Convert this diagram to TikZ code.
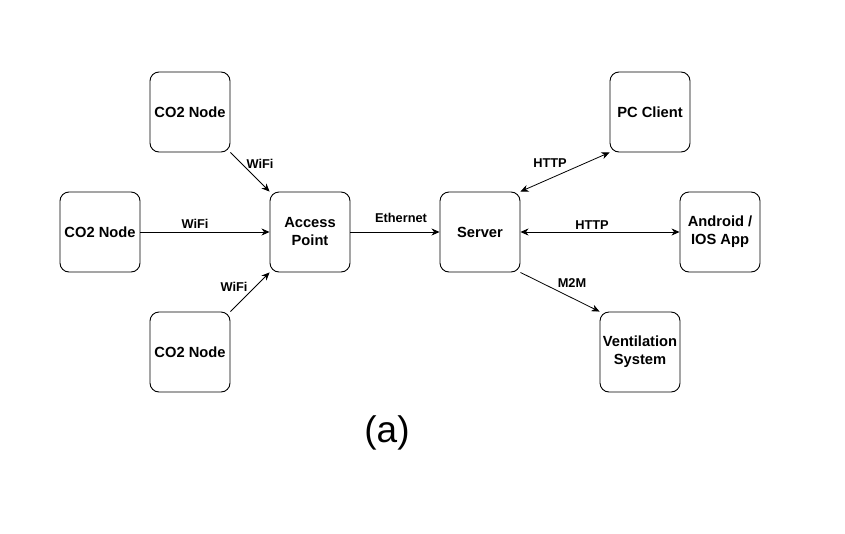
\documentclass[tikz,border=0pt]{standalone}
\usepackage{fontspec}
\setmainfont{Liberation Sans}
\usetikzlibrary{arrows.meta}
\begin{document}
\begin{tikzpicture}[x=1pt,y=-1pt,
  box/.style={draw,line width=0.9pt,rounded corners=9pt,minimum width=80pt,minimum height=80pt,
    align=center,font=\bfseries\fontsize{14.7}{18}\selectfont,inner sep=0pt},
  link/.style={line width=0.8pt,-{Stealth[length=8pt,width=7pt,inset=2.5pt]}},
  blink/.style={line width=0.8pt,{Stealth[length=8pt,width=7pt,inset=2.5pt]}-{Stealth[length=8pt,width=7pt,inset=2.5pt]}},
  lbl/.style={font=\bfseries\fontsize{12.8}{15}\selectfont,inner sep=1pt}]
\useasboundingbox[fill=white] (0,0) rectangle (845,533);
\node[box] (co2a) at (190,112) {CO2 Node};
\node[box] (co2b) at (100,232) {CO2 Node};
\node[box] (co2c) at (190,352) {CO2 Node};
\node[box] (ap) at (310,232) {Access\\Point};
\node[box] (srv) at (480,232) {Server};
\node[box] (pc) at (650,112) {PC Client};
\node[box] (app) at (720,232) {Android /\\IOS App};
\node[box] (vent) at (640,352) {Ventilation\\System};
\draw[link] (co2a.south east) -- (ap.north west);
\draw[link] (co2b.east) -- (ap.west);
\draw[link] (co2c.north east) -- (ap.south west);
\draw[link] (ap.east) -- (srv.west);
\draw[blink] (srv.north east) -- (pc.south west);
\draw[blink] (srv.east) -- (app.west);
\draw[link] (srv.south east) -- (vent.north west);
\node[lbl] (l1) at (260,164) {WiFi};
\node[lbl] (l2) at (195,224) {WiFi};
\node[lbl] (l3) at (234,287) {WiFi};
\node[lbl] (l4) at (401,218) {Ethernet};
\node[lbl] (l5) at (550,163) {HTTP};
\node[lbl] (l6) at (592,225) {HTTP};
\node[lbl] (l7) at (572,283) {M2M};
\node[font=\fontsize{37}{44}\selectfont] (cap) at (387,433) {(a)};
\end{tikzpicture}
\end{document}
